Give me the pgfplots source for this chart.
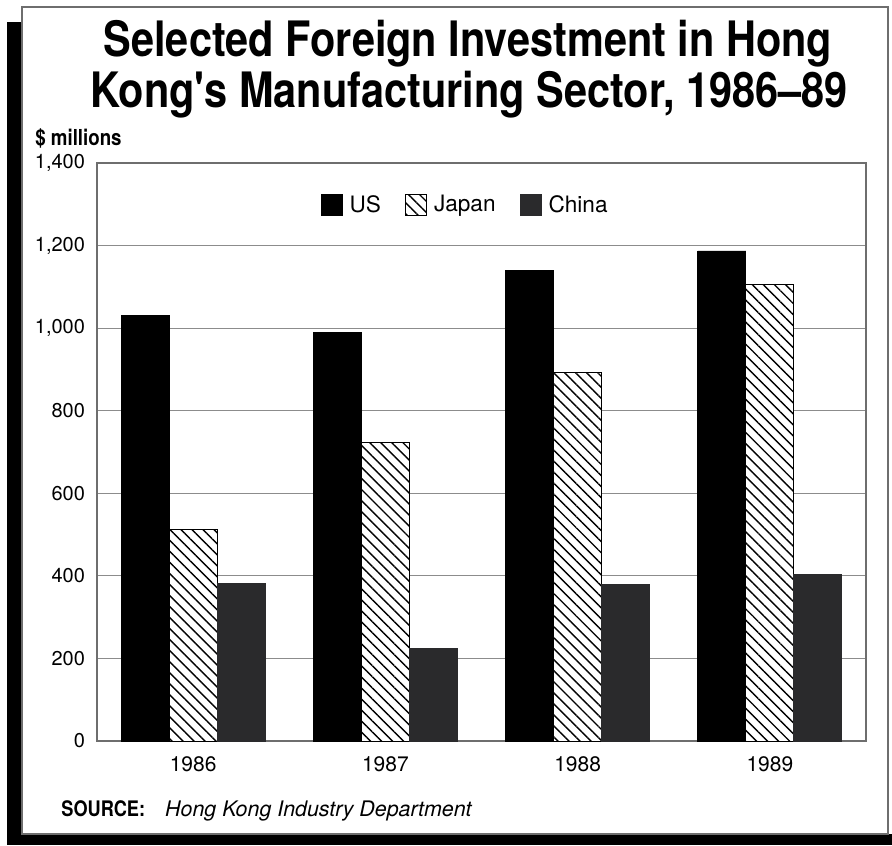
\documentclass[border=0pt]{standalone}
\usepackage{fontspec}
\setmainfont{TeX Gyre Heros}
\newfontfamily\condfont[FakeStretch=0.85]{TeX Gyre Heros}
\usepackage{pgfplots}
\pgfplotsset{compat=1.18}
\usetikzlibrary{patterns.meta}
\definecolor{china}{RGB}{42,42,44}
\definecolor{gridc}{RGB}{140,140,140}
\definecolor{framec}{RGB}{110,110,110}
\begin{document}
\begin{tikzpicture}
\useasboundingbox (0,0) rectangle (446pt,422.5pt);
% shadow and frame
\fill[black] (3.5pt,0pt) rectangle (11pt,411.5pt);
\fill[black] (3.5pt,0pt) rectangle (446pt,5.5pt);
\filldraw[fill=white, draw=framec, line width=0.6pt] (11pt,5.5pt) rectangle (444pt,419pt);
% title
\node[anchor=base, inner sep=0pt] at (234pt,394pt) {\condfont\bfseries\fontsize{24.4}{26}\selectfont Selected Foreign Investment in Hong};
\node[anchor=base, inner sep=0pt] at (234.5pt,368.5pt) {\condfont\bfseries\fontsize{24.4}{26}\selectfont Kong's Manufacturing Sector, 1986–89};
\node[anchor=base west, inner sep=0pt] at (17.5pt,349.5pt) {\condfont\bfseries\fontsize{11}{13}\selectfont \$ millions};
\node[anchor=base west, inner sep=0pt] at (30.5pt,14.5pt) {\condfont\bfseries\fontsize{10.7}{12}\selectfont SOURCE:\hspace{10pt}\normalfont\itshape\fontsize{10.7}{13}\selectfont Hong Kong Industry Department};
\begin{axis}[
  at={(48.5pt,52pt)}, anchor=south west,
  scale only axis, width=384.5pt, height=289pt,
  ybar=0pt, bar width=24pt,
  xmin=-0.5, xmax=3.5, ymin=0, ymax=1400,
  ytick={0,200,...,1400},
  xtick={0,1,2,3}, xticklabels={1986,1987,1988,1989},
  ymajorgrids, grid style={gridc, line width=0.5pt},
  axis line style={framec, line width=0.6pt},
  major tick length=0pt,
  /pgf/number format/assume math mode=true,
  /pgf/number format/1000 sep={,},
  yticklabel style={font=\fontsize{10}{12}\selectfont, xshift=-2.5pt},
  xticklabel style={font=\fontsize{10.5}{12}\selectfont, yshift=-4.5pt},
  legend columns=3,
  legend style={at={(axis cs:1.42,1298)}, anchor=center, draw=none, fill=none,
    font=\fontsize{11.3}{13}\selectfont,
    /tikz/every odd column/.append style={column sep=1.5pt},
    /tikz/every even column/.append style={column sep=10pt}},
  legend image code/.code={\draw[#1, line width=0.5pt] (0pt,-5.25pt) rectangle (10.5pt,5.25pt);},
]
\addplot[fill=black, draw=black] coordinates {(0,1030) (1,990) (2,1139) (3,1187)};
\addplot[draw=black, line width=0.5pt, fill=white, postaction={pattern={Lines[angle=-45,distance=3.9pt,line width=0.7pt]}, pattern color=black}] coordinates {(0,513) (1,722) (2,892) (3,1106)};
\addplot[fill=china, draw=china] coordinates {(0,382) (1,225) (2,380) (3,404)};
\legend{US,Japan,China}
\end{axis}
\end{tikzpicture}
\end{document}
